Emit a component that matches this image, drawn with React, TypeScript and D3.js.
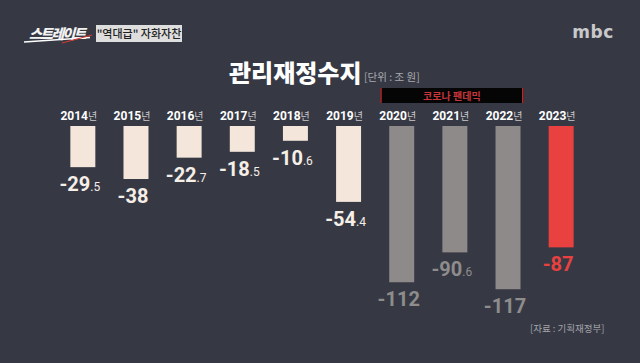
import React from "react";
import * as d3 from "d3";

const years = ["2014", "2015", "2016", "2017", "2018", "2019", "2020", "2021", "2022", "2023"];
const values = [-29.5, -38, -22.7, -18.5, -10.6, -54.4, -112, -90.6, -117, -87];
const groups = ["normal", "normal", "normal", "normal", "normal", "normal", "covid", "covid", "covid", "now"];
const title = "관리재정수지";
const unitText = "[단위 : 조 원]";
const sourceText = "[자료 : 기획재정부]";
const bandText = "코로나 팬데믹";

const W = 640, H = 363;
const BG = "#363944";
const barColor: Record<string, string> = { normal: "#f4e6db", covid: "#8e8a8a", now: "#e8413f" };
const labelColor: Record<string, string> = { normal: "#f6efe8", covid: "#8f8c8c", now: "#e8413f" };

export default function App() {
  const x = d3.scaleBand().domain(years).range([56, 588]).paddingInner(0.53).paddingOuter(0.27);
  const y = d3.scaleLinear().domain([0, -120]).range([126, 293.4]);
  const covidYears = years.filter((_, i) => groups[i] === "covid");
  const bx0 = (x(covidYears[0]) ?? 0) - 9;
  const bx1 = (x(covidYears[covidYears.length - 1]) ?? 0) + x.bandwidth() + 3;

  const splitVal = (v: number) => {
    const s = d3.format("")(v).replace("−", "-");
    const i = s.indexOf(".");
    return i < 0 ? [s, ""] : [s.slice(0, i), s.slice(i)];
  };

  return (
    <svg width={W} height={H} style={{ position: "absolute", left: 0, top: 0, display: "block" }}>
      <rect x={0} y={0} width={W} height={H} fill={BG} />
      {/* program logo */}
      <g transform="translate(27,39) skewX(-15)">
        <text x={2} y={0} fontFamily="Noto Sans CJK KR" fontWeight={900} fontSize={14} fill="#f2f2f2" letterSpacing={-1.8}>스트레이트</text>
      </g>
      <line x1={24} y1={42} x2={90} y2={37.5} stroke="#ffffff" strokeWidth={1.5} />
      <line x1={62} y1={43} x2={92} y2={35} stroke="#d23a30" strokeWidth={1.2} />
      <rect x={96} y={25} width={86} height={17} fill="#dedede" />
      <text x={139} y={38} textAnchor="middle" fontFamily="Noto Sans CJK KR" fontWeight={500} fontSize={11} fill="#222">"역대급" 자화자찬</text>
      {/* broadcaster logo */}
      <text x={593} y={38} textAnchor="middle" fontFamily="DejaVu Sans" fontWeight={700} fontSize={17} fill="#c9c9cc" letterSpacing={0.5}>mbc</text>

      {/* title */}
      <text x={229} y={82} fontFamily="Noto Sans CJK KR" fontWeight={900} fontSize={24} fill="#ffffff">{title}</text>
      <text x={364} y={81} fontFamily="Noto Sans CJK KR" fontSize={10.5} fill="#a9a9b0">{unitText}</text>

      {/* covid band */}
      <rect x={bx0} y={88} width={bx1 - bx0} height={15} fill="#050505" />
      <rect x={bx0} y={88} width={1.5} height={15} fill="#b02a30" />
      <rect x={bx1 - 1.5} y={88} width={1.5} height={15} fill="#b02a30" />
      <text x={(bx0 + bx1) / 2} y={99.5} textAnchor="middle" fontFamily="Noto Sans CJK KR" fontWeight={700} fontSize={10} fill="#c8363c">{bandText}</text>

      {years.map((yr, i) => {
        const cx = (x(yr) ?? 0) + x.bandwidth() / 2;
        const v = values[i];
        const g = groups[i];
        const [intPart, decPart] = splitVal(v);
        return (
          <g key={yr}>
            <text x={cx - 4} y={119.5} textAnchor="middle" fontFamily="Roboto" fontWeight={700} fontSize={12} fill="#ffffff">
              {yr}
              <tspan fontSize={10} fontWeight={400} fill="#c9c9cc" fontFamily="Noto Sans CJK KR">년</tspan>
            </text>
            <rect x={x(yr)} y={y(0)} width={x.bandwidth()} height={y(v) - y(0)} fill={barColor[g]} />
            <text x={cx - 3} y={y(v) + 24} textAnchor="middle" fontFamily="Roboto" fill={labelColor[g]}>
              <tspan fontSize={20} fontWeight={700}>{intPart}</tspan>
              {decPart && <tspan fontSize={12} fontWeight={400}>{decPart}</tspan>}
            </text>
          </g>
        );
      })}

      <text x={530} y={332} fontFamily="Noto Sans CJK KR" fontSize={9.5} fill="#a4a4ac">{sourceText}</text>
    </svg>
  );
}
